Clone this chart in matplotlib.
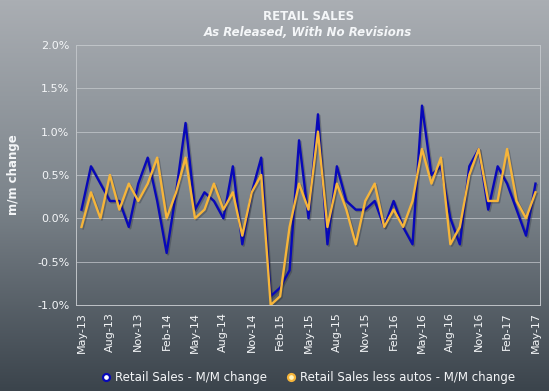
import numpy as np
import matplotlib
matplotlib.use("Agg")
import matplotlib.pyplot as plt
import matplotlib.patheffects as pe
from matplotlib.colors import LinearSegmentedColormap
from matplotlib.lines import Line2D

# release months, May-13 .. May-17
months = ["May", "Jun", "Jul", "Aug", "Sep", "Oct", "Nov", "Dec",
          "Jan", "Feb", "Mar", "Apr"]
labels = []
for i in range(49):
    m = months[i % 12]
    yr = 13 + (i + 4) // 12
    labels.append("%s-%d" % (m, yr))

retail_sales = [0.1, 0.6, 0.4, 0.2, 0.2, -0.1, 0.4, 0.7, 0.2, -0.4, 0.3, 1.1,
                0.1, 0.3, 0.2, 0.0, 0.6, -0.3, 0.3, 0.7, -0.9, -0.8, -0.6, 0.9,
                0.0, 1.2, -0.3, 0.6, 0.2, 0.1, 0.1, 0.2, -0.1, 0.2, -0.1, -0.3,
                1.3, 0.5, 0.6, 0.0, -0.3, 0.6, 0.8, 0.1, 0.6, 0.4, 0.1, -0.2,
                0.4]
ex_autos = [-0.1, 0.3, 0.0, 0.5, 0.1, 0.4, 0.2, 0.4, 0.7, 0.0, 0.3, 0.7,
            0.0, 0.1, 0.4, 0.1, 0.3, -0.2, 0.3, 0.5, -1.0, -0.9, -0.1, 0.4,
            0.1, 1.0, -0.1, 0.4, 0.1, -0.3, 0.2, 0.4, -0.1, 0.1, -0.1, 0.2,
            0.8, 0.4, 0.7, -0.3, -0.1, 0.5, 0.8, 0.2, 0.2, 0.8, 0.2, 0.0,
            0.3]

x = np.arange(len(labels))
BLUE = "#0808b8"
ORANGE = "#f6b53a"
WHITE = "#f4f6f8"

fig = plt.figure(figsize=(5.49, 3.91), dpi=100)

# gradient background
bg = fig.add_axes([0, 0, 1, 1], zorder=-10)
cmap = LinearSegmentedColormap.from_list("bg", ["#aaaeb3", "#7d858c", "#3b444c"])
grad = np.linspace(0, 1, 256).reshape(-1, 1)
bg.imshow(grad, aspect="auto", cmap=cmap, extent=[0, 1, 0, 1])
bg.axis("off")

ax = fig.add_axes([0.139, 0.220, 0.845, 0.665])
ax.patch.set_alpha(0)

shadow = [pe.SimpleLineShadow(offset=(1, -1), shadow_color="#202530", alpha=0.3),
          pe.Normal()]
ax.plot(x, retail_sales, color=BLUE, lw=1.7, path_effects=shadow, zorder=3)
ax.plot(x, ex_autos, color=ORANGE, lw=1.7, path_effects=shadow, zorder=4)

ax.set_xlim(-0.55, 48.5)
ax.set_ylim(-1.0, 2.0)
ax.set_yticks(np.arange(-1.0, 2.01, 0.5))
ax.set_yticklabels(["%.1f%%" % v for v in np.arange(-1.0, 2.01, 0.5)])
ax.set_xticks(x[::3])
ax.set_xticklabels(labels[::3], rotation=90)
ax.tick_params(colors=WHITE, labelsize=8, length=0, pad=5)
ax.grid(axis="y", color="#c8ccd0", lw=0.7, alpha=0.7)
for s in ax.spines.values():
    s.set_color("#c0c4c8")
    s.set_linewidth(0.7)

ax.set_ylabel("m/m change", color=WHITE, fontsize=8.5, fontweight="bold",
              labelpad=12)

cx = (0.139 + 0.984) / 2
fig.text(cx, 1 - 16 / 391, "RETAIL SALES", color=WHITE, fontsize=8.5,
         fontweight="bold", ha="center", va="center")
fig.text(cx, 1 - 32 / 391, "As Released, With No Revisions", color=WHITE,
         fontsize=8.5, fontweight="bold", style="italic", ha="center",
         va="center")

handles = [
    Line2D([], [], ls="none", marker="o", ms=5, mfc="white", mec=BLUE, mew=1.6),
    Line2D([], [], ls="none", marker="o", ms=5, mfc="#fff4c0", mec=ORANGE, mew=1.6),
]
leg = fig.legend(handles, ["Retail Sales - M/M change",
                           "Retail Sales less autos - M/M change"],
                 loc="center", bbox_to_anchor=(cx, 1 - 378 / 391), ncol=2,
                 frameon=False, fontsize=8.5, handlelength=0.8,
                 handletextpad=0.4, columnspacing=1.6, labelcolor=WHITE)

fig.savefig("out.png", dpi=100)
